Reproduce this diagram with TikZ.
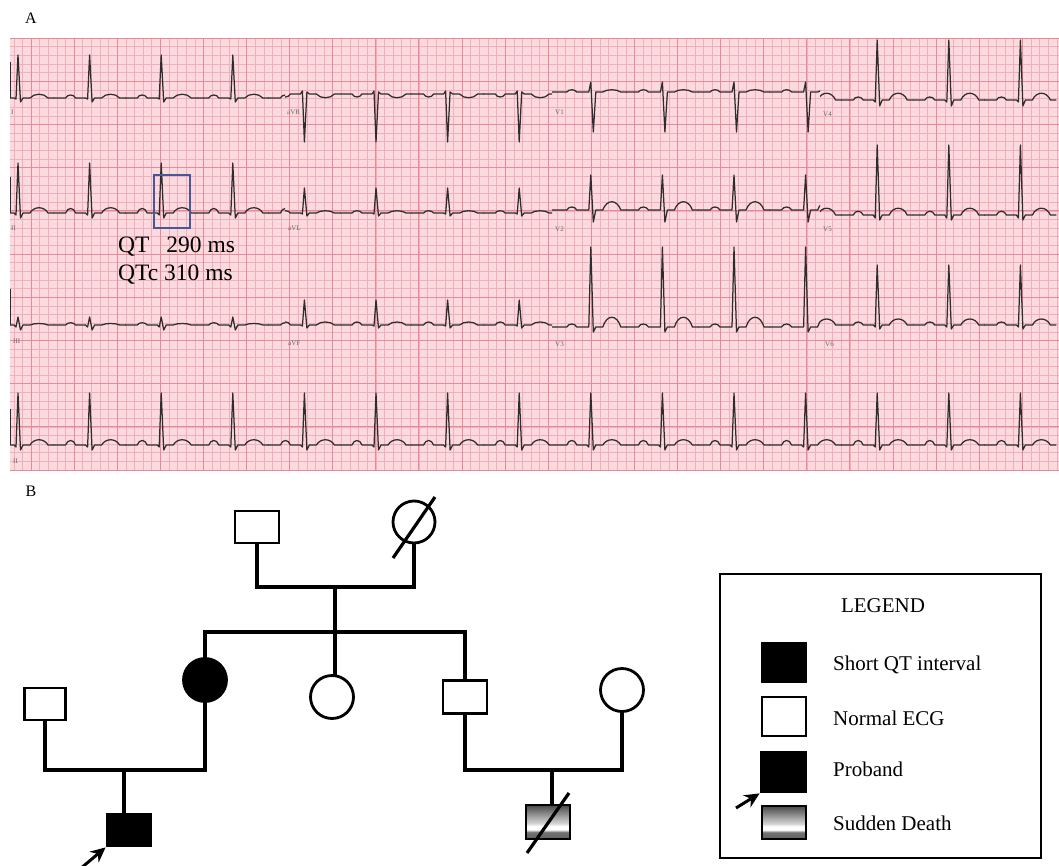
\documentclass[tikz,border=0pt]{standalone}
\usepackage{fontspec}
\setmainfont{Liberation Serif}
\usetikzlibrary{arrows.meta}
\definecolor{ecgbg}{RGB}{250,218,223}
\definecolor{ecgminor}{RGB}{242,175,186}
\definecolor{ecgmajor}{RGB}{234,136,152}
\definecolor{ecgtrace}{RGB}{45,45,45}
\definecolor{qtbox}{RGB}{70,88,150}
\pgfdeclareverticalshading{sdshade}{100bp}{color(0bp)=(black!62); color(25bp)=(black!62); color(35bp)=(black!55); color(39bp)=(white); color(44bp)=(white); color(47.5bp)=(black!15); color(75bp)=(black!72); color(100bp)=(black!72)}
\tikzset{
  ecg/.style={draw=ecgtrace, line width=1.25pt, line join=round},
  minorline/.style={draw=ecgminor, line width=0.45pt},
  majorline/.style={draw=ecgmajor, line width=0.9pt},
  leadlab/.style={font=\fontsize{7}{8}\selectfont, text=black!60, anchor=base west, inner sep=0pt},
  ped/.style={line width=3.2pt, line cap=rect},
  male/.style={draw, rectangle, line width=2.8pt, minimum width=44pt, minimum height=32pt, inner sep=0pt},
  female/.style={draw, circle, line width=2.8pt, minimum size=43pt, inner sep=0pt},
  affected/.style={fill=black},
  sdfill/.style={shade, shading=sdshade},
  slashline/.style={line width=3.2pt},
  probarrow/.style={line width=3pt, -{Stealth[length=15pt,width=14pt]}},
  legtext/.style={font=\fontsize{21}{24}\selectfont, anchor=base west, inner sep=0pt},
  qttext/.style={font=\fontsize{23.5}{26}\selectfont, anchor=base west, inner sep=0pt},
  panel/.style={font=\fontsize{16}{18}\selectfont, inner sep=0pt}
}
% #1 clip x0, #2 clip x1, #3 baseline, #4 P, #5 Q, #6 R, #7 S, #8 T (upward heights)
\newcommand\ecglead[8]{%
  \begin{scope}
    \clip (#1,38) rectangle (#2,470);
    \foreach \k in {0,...,14} {
      \pgfmathsetmacro\ecgx{18+71.6*\k}
      \draw[ecg] ({\ecgx-36},#3) -- ({\ecgx-24},#3)
        .. controls ({\ecgx-22},{#3-(#4)}) and ({\ecgx-16},{#3-(#4)}) .. ({\ecgx-14},#3)
        -- ({\ecgx-4},#3) -- ({\ecgx-2},{#3-(#5)}) -- (\ecgx,{#3-(#6)})
        -- ({\ecgx+2.5},{#3-(#7)}) -- ({\ecgx+5},#3) -- ({\ecgx+12},#3)
        .. controls ({\ecgx+16},{#3-(#8)}) and ({\ecgx+26},{#3-(#8)}) .. ({\ecgx+30},#3)
        -- ({\ecgx+36},#3);
    }
  \end{scope}}
\newcommand\ecgcal[1]{\draw[ecg, line width=1pt] (10.6,#1) -- (10.6,{#1-36});}
\begin{document}
\begin{tikzpicture}[x=1pt,y=-1pt]
\useasboundingbox (0,0) rectangle (1059,866);
\fill[white] (0,0) rectangle (1059,866);
% ---------- ECG grid ----------
\begin{scope}
  \clip (10,38) rectangle (1059,470);
  \fill[ecgbg] (10,38) rectangle (1059,470);
  \foreach \i in {-3,...,122} \draw[minorline] ({31+8.62*\i},38) -- ({31+8.62*\i},470);
  \foreach \j in {0,...,50} \draw[minorline] (10,{38+8.64*\j}) -- (1059,{38+8.64*\j});
  \foreach \i in {-1,...,24} \draw[majorline] ({31+43.1*\i},38) -- ({31+43.1*\i},470);
  \foreach \j in {0,...,10} \draw[majorline] (10,{38+43.2*\j}) -- (1059,{38+43.2*\j});
\end{scope}
% ---------- ECG traces ----------
% row 1
\ecglead{10}{285}{98}{4}{-1}{43}{-4}{5}
\ecglead{285}{552}{94}{-4}{3}{-48}{2}{-5}
\ecglead{552}{820}{92}{3}{0}{10}{-40}{3}
\ecglead{820}{1059}{100}{4}{-2}{60}{-6}{9}
% row 2
\ecglead{10}{285}{213}{6}{-2}{50}{-5}{7}
\ecglead{285}{552}{213}{3}{-1}{25}{-3}{3}
\ecglead{552}{820}{210}{4}{0}{35}{-12}{11}
\ecglead{820}{1059}{215}{5}{-3}{70}{-5}{9}
% row 3
\ecglead{10}{285}{325}{3}{-2}{8}{-5}{2}
\ecglead{285}{552}{325}{4}{-1}{25}{-3}{4}
\ecglead{552}{820}{327}{4}{0}{80}{-5}{13}
\ecglead{820}{1059}{325}{4}{-2}{60}{-4}{8}
% row 4
\ecglead{10}{1059}{445}{6}{-2}{52}{-5}{7}
\ecgcal{98}\ecgcal{213}\ecgcal{325}\ecgcal{445}
% lead labels
\node[leadlab] (lI) at (11,115) {I};
\node[leadlab] (laVR) at (287,115) {aVR};
\node[leadlab] (lV1) at (555,115) {V1};
\node[leadlab] (lV4) at (823,117) {V4};
\node[leadlab] (lII) at (11,231) {II};
\node[leadlab] (laVL) at (288,231) {aVL};
\node[leadlab] (lV2) at (555,232) {V2};
\node[leadlab] (lV5) at (823,232) {V5};
\node[leadlab] (lIII) at (13,343) {III};
\node[leadlab] (laVF) at (288,345) {aVF};
\node[leadlab] (lV3) at (555,346) {V3};
\node[leadlab] (lV6) at (825,346) {V6};
\node[leadlab] (lIIr) at (13,463) {II};
% QT box and labels
\draw[draw=qtbox, line width=1.8pt] (154,175) rectangle (190,228);
\node[qttext] (qt) at (118,253) {QT\hspace{0.72em}290 ms};
\node[qttext] (qtc) at (118,280) {QTc 310 ms};
% panel letters
\node[panel] (pA) at (31,18) {A};
\node[panel] (pB) at (31,491) {B};
% ---------- Pedigree ----------
\node[male] (gf) at (257,527) {};
\node[female, minimum size=42pt] (gm) at (414,522) {};
\node[female, affected] (mo) at (205,680) {};
\node[female] (au) at (332,697) {};
\node[male, minimum height=33pt] (so) at (465,697) {};
\node[female] (wi) at (622,690) {};
\node[male, minimum width=41pt] (fa) at (45,704) {};
\node[male, affected] (pr) at (129,830) {};
\node[male, sdfill, minimum height=34pt] (sd) at (548,822) {};
\coordinate (m1) at (335,587);
\coordinate (s1) at (335,632);
\coordinate (m2) at (124,770);
\coordinate (m3) at (552,770);
\draw[ped] (gf.south) |- (m1) -| (gm.south);
\draw[ped] (m1) -- (m1 |- au.north);
\draw[ped] (mo.north) |- (s1) -| (so.north);
\draw[ped] (fa.south) |- (m2) -| (mo.south);
\draw[ped] (m2) -- (m2 |- pr.north);
\draw[ped] (so.south) |- (m3) -| (wi.south);
\draw[ped] (m3) -- (m3 |- sd.north);
\draw[slashline] ([shift={(-21,36)}]gm.center) -- ([shift={(21,-25)}]gm.center);
\draw[slashline] ([shift={(-21,31)}]sd.center) -- ([shift={(21,-29)}]sd.center);
\coordinate (a1) at (80,869);
\draw[probarrow] (a1) -- (pr.south west);
% ---------- Legend ----------
\node[draw, line width=2.6pt, minimum width=321pt, minimum height=284pt, inner sep=0pt] (leg) at (880.5,716) {};
\node[font=\fontsize{21}{24}\selectfont, anchor=base, inner sep=0pt] (legt) at (883,612) {LEGEND};
\node[male, affected, minimum width=44pt, minimum height=39pt] (k1) at (784,662.5) {};
\node[male, minimum width=44pt, minimum height=39pt] (k2) at (784,716.5) {};
\node[male, affected, minimum width=45pt, minimum height=40pt] (k3) at (783.5,772) {};
\node[male, sdfill, minimum width=44pt, minimum height=33pt] (k4) at (784,822.5) {};
\coordinate (a2) at (736,808);
\draw[probarrow] (a2) -- (k3.south west);
\node[legtext] (t1) at (833,670) {Short QT interval};
\node[legtext] (t2) at (833,725) {Normal ECG};
\node[legtext] (t3) at (833,776) {Proband};
\node[legtext] (t4) at (833,830) {Sudden Death};
\end{tikzpicture}
\end{document}
